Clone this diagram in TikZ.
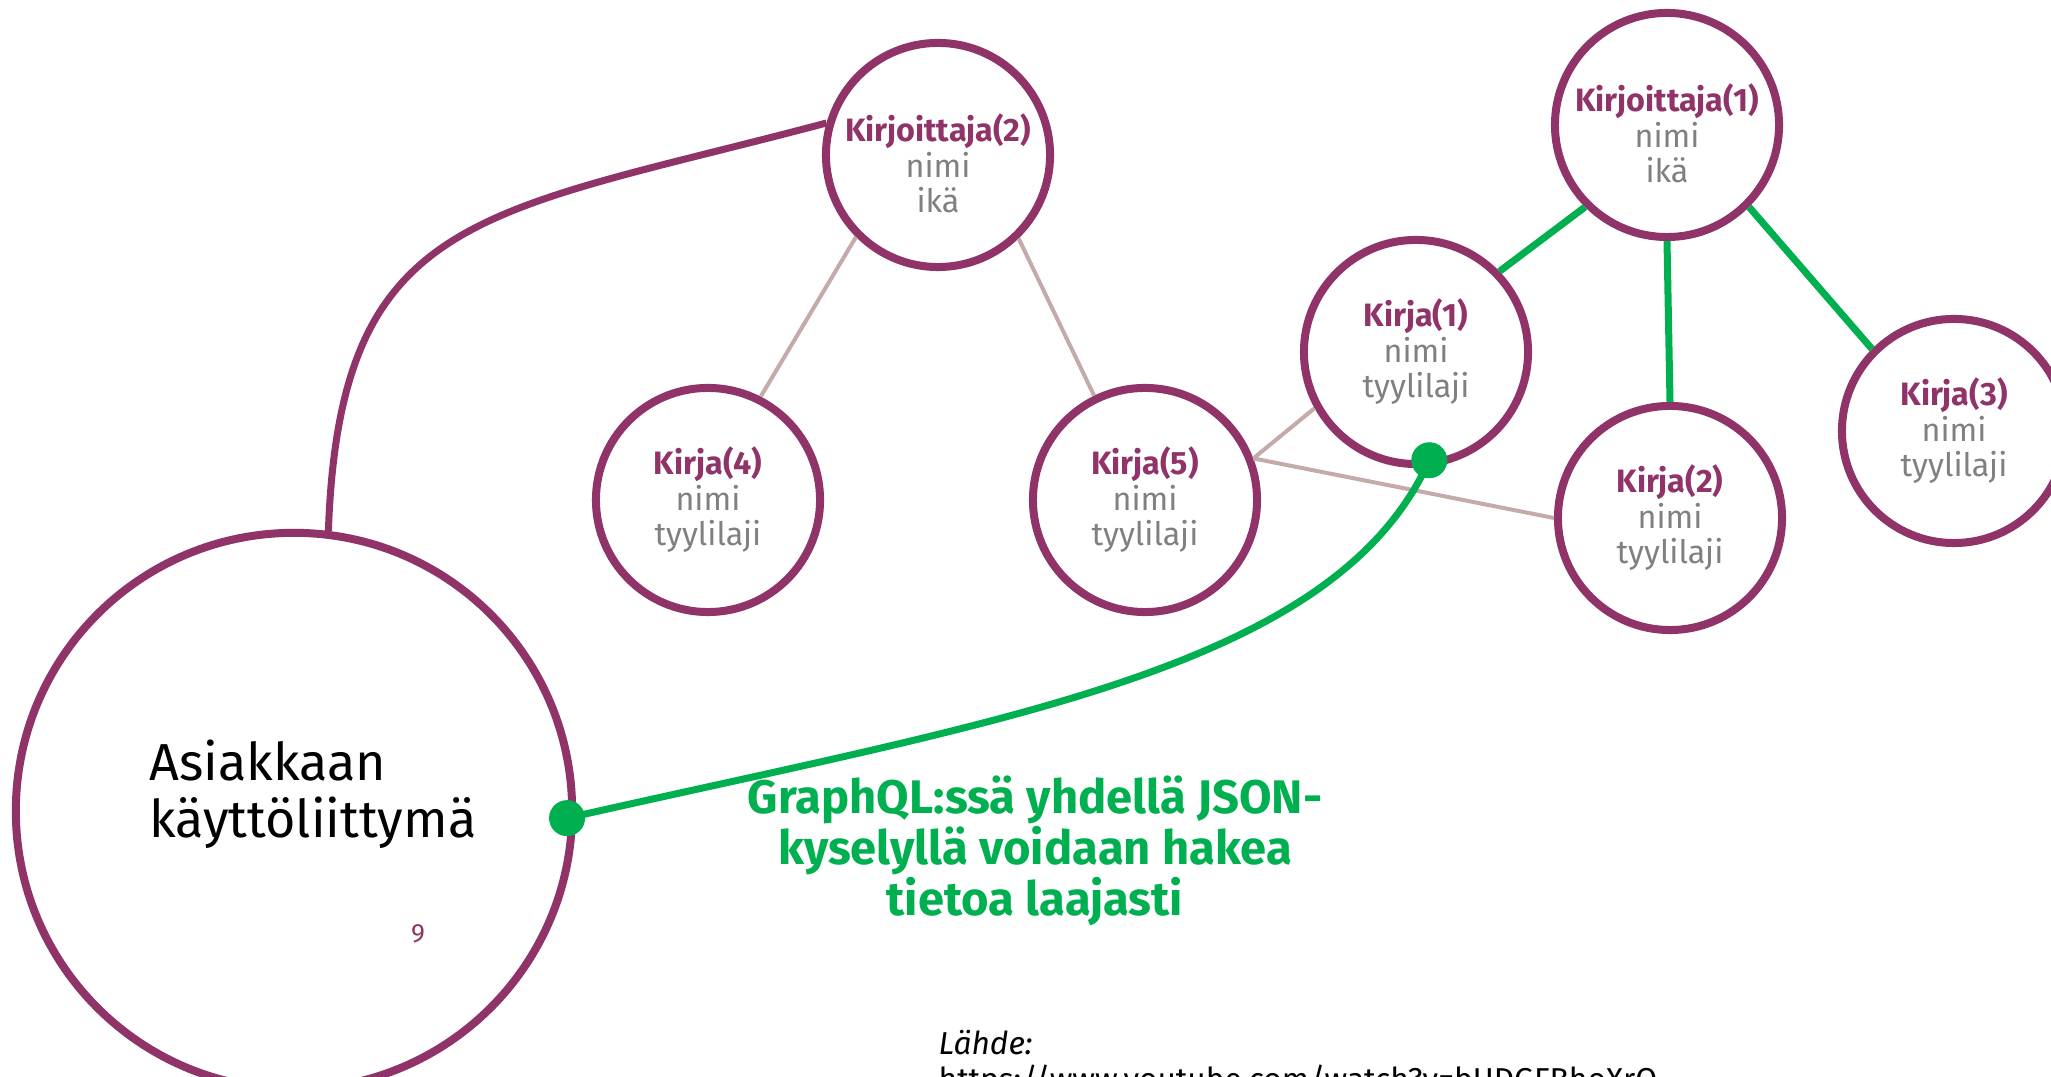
\documentclass[tikz,border=0pt]{standalone}
\usepackage{fontspec}
\setmainfont{Fira Sans}
\usetikzlibrary{positioning}
\definecolor{violetti}{RGB}{143,51,104}
\definecolor{vihrea}{RGB}{0,176,80}
\definecolor{ruskea}{RGB}{196,170,168}
\definecolor{harmaa}{RGB}{128,128,128}

\begin{document}
\begin{tikzpicture}[x=0.01cm, y=-0.01cm]
          \tikzstyle{olio} = [circle, draw=violetti, line width=0.08cm, fill=white, text=harmaa,
            minimum size=2.24cm, inner sep=0pt, align=center, font=\fontsize{9.2}{10.1}\selectfont]
          \tikzstyle{yhteys} = [draw=ruskea, line width=0.04cm]
          \tikzstyle{haku} = [draw=vihrea, line width=0.07cm]
          \tikzstyle{piste} = [circle, fill=vihrea, minimum size=0.36cm, inner sep=0pt]

          \useasboundingbox (0,0) rectangle (2051,1077);
          \clip (0,0) rectangle (2051,1077);

          % Kirjoittajat
          \foreach \nimi/\x/\y/\n in {kirjoittaja1/1667/125/1, kirjoittaja2/938/155/2}
            \node[olio] (\nimi) at (\x,\y) {\rule{0pt}{4.5mm}\textcolor{violetti}{\textbf{Kirjoittaja(\n)}}\\ nimi\\ ikä};

          % Kirjat
          \foreach \nimi/\x/\y/\n in {kirja1/1416/352/1, kirja2/1670/518/2, kirja3/1954/431/3,
                                      kirja4/708/500/4, kirja5/1145/500/5}
            \node[olio] (\nimi) at (\x,\y) {\textcolor{violetti}{\textbf{Kirja(\n)}}\\ nimi\\ tyylilaji};

          % Asiakkaan puoli
          \node[olio, minimum size=5.56cm] (asiakas) at (294,811) {};
          \node[anchor=west, align=left, inner sep=0pt, font=\fontsize{14.8}{16.3}\selectfont]
            (asiakasteksti) at (149,794) {Asiakkaan\\ käyttöliittymä};
          \node[text=violetti, inner sep=0pt, font=\fontsize{7.5}{9}\selectfont] (sivu) at (418,934) {9};

          % Yhteydet
          \draw[yhteys] (kirjoittaja2.225) -- (kirja4.63);
          \draw[yhteys] (kirjoittaja2.314) -- (kirja5.116);
          \draw[yhteys] (kirja5.21) -- (kirja1.209);
          \draw[yhteys] (kirja5.21) -- (kirja2.west);
          \draw[haku] (kirjoittaja1.225) -- (kirja1.44);
          \draw[haku] (kirjoittaja1.south) -- (kirja2.north);
          \draw[haku] (kirjoittaja1.315) -- (kirja3.135);
          \draw[draw=violetti, line width=0.07cm] (asiakas.83) .. controls (340,210) and (480,215) .. (kirjoittaja2.164);

          % Kysely
          \coordinate (alku) at ([shift={(358.5:2.73cm)}]asiakas.center);
          \coordinate (loppu) at ([shift={(277:1.09cm)}]kirja1.center);
          \draw[haku] (alku) .. controls (1000,720) and (1335,670) .. (loppu);
          \node[piste] (piste1) at (alku) {};
          \node[piste] (piste2) at (loppu) {};

          \node[text=vihrea, align=center, inner sep=0pt, font=\bfseries\fontsize{13.4}{14.5}\selectfont]
            (selite) at (1035,851) {GraphQL:ssä yhdellä JSON-\\ kyselyllä voidaan hakea\\ tietoa laajasti};

          % Lähde
          \node[anchor=north west, align=left, inner sep=0pt, font=\fontsize{9}{10}\selectfont]
            (lahde) at (938,1030) {\textit{Lähde:}\\ https://www.youtube.com/watch?v=bUDGFBhoXrQ};
        \end{tikzpicture}
\end{document}
